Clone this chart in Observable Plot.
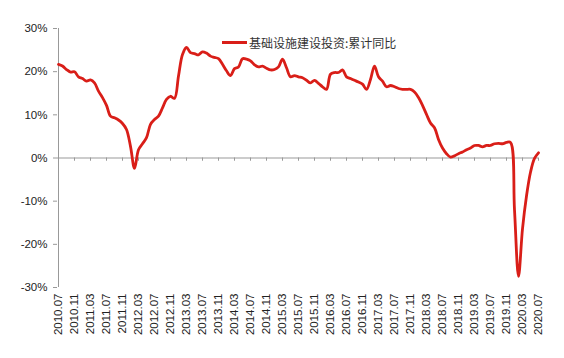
<!DOCTYPE html>
<html><head><meta charset="utf-8">
<script src="https://cdn.jsdelivr.net/npm/d3@7"></script>
<script src="https://cdn.jsdelivr.net/npm/@observablehq/plot@0.6"></script>
<style>
body{margin:0;background:#fff;}
#wrap{position:relative;width:564px;height:358px;}
#legend{position:absolute;left:222px;top:34px;display:flex;align-items:center;font-family:"Noto Sans CJK SC";font-size:12px;color:#333;white-space:nowrap;}
#legend .sw{display:inline-block;width:25px;height:3px;background:#d91e18;margin-right:2px;}
</style></head>
<body><div id="wrap"><div id="legend"><span class="sw"></span><span id="lname"></span></div></div>
<script>
const seriesName = "基础设施建设投资:累计同比";
const startYear = 2010, startMonth = 7;
const values = [
  21.7, 21.3, 20.5, 19.9, 20.0, 18.8, 18.4, 17.8, 18.1, 17.4, 15.5, 14.0,
  12.2, 9.7, 9.3, 8.8, 8.0, 6.6, 2.7, -2.4, 1.9, 3.3, 4.7, 7.8,
  8.9, 9.7, 11.6, 13.6, 14.3, 13.8, 19.0, 24.0, 25.6, 24.4, 24.2, 23.9,
  24.6, 24.3, 23.6, 23.3, 23.0, 21.7, 20.2, 19.1, 20.7, 21.1, 23.0, 22.9,
  22.5, 21.6, 21.1, 21.3, 20.8, 20.4, 20.5, 21.1, 22.9, 20.9, 18.8, 19.1,
  18.8, 18.6, 18.0, 17.4, 18.0, 17.3, 16.5, 15.9, 19.4, 19.8, 19.8, 20.4,
  18.8, 18.4, 18.0, 17.6, 17.1, 15.9, 18.2, 21.3, 18.8, 17.8, 16.5, 16.8,
  16.5, 16.1, 15.9, 15.9, 15.9, 15.3, 14.0, 12.2, 10.1, 8.1, 7.0, 4.3,
  2.3, 1.0, 0.2, 0.5, 1.0, 1.4, 1.9, 2.3, 2.9, 2.9, 2.6, 2.9,
  2.9, 3.3, 3.4, 3.3, 3.6, 3.6, -12.0, -27.4, -16.4, -8.8, -3.3, -0.1,
  1.2
];
const yTicks = [-30, -20, -10, 0, 10, 20, 30];
const xTickLabels = ["2010.07","2010.11","2011.03","2011.07","2011.11","2012.03","2012.07","2012.11",
  "2013.03","2013.07","2013.11","2014.03","2014.07","2014.11","2015.03","2015.07","2015.11",
  "2016.03","2016.07","2016.11","2017.03","2017.07","2017.11","2018.03","2018.07","2018.11",
  "2019.03","2019.07","2019.11","2020.03","2020.07"];

const months = values.map((_, i) => {
  const t = startMonth - 1 + i;
  return `${startYear + Math.floor(t / 12)}.${String(t % 12 + 1).padStart(2, "0")}`;
});
const data = months.map((m, i) => ({month: m, value: values[i]}));
document.getElementById("lname").textContent = seriesName;

const chart = Plot.plot({
  width: 564, height: 358,
  marginLeft: 57, marginRight: 26, marginTop: 28, marginBottom: 71,
  style: {fontFamily: "'Liberation Sans', Arial, sans-serif", fontSize: "11.5px", background: "transparent"},
  x: {type: "point", domain: months, padding: 0, label: null},
  y: {domain: [-30, 30], label: null},
  marks: [
    Plot.ruleX([months[0]], {y1: -30, y2: 30, stroke: "#999"}),
    Plot.ruleY([0], {stroke: "#999"}),
    Plot.ruleX(xTickLabels, {x: d => d, y1: 0, y2: -0.75, stroke: "#999"}),
    Plot.axisY(yTicks, {tickSize: 4, tickPadding: 6, stroke: "#999", fill: "#222", label: null, tickFormat: d => d + "%"}),
    Plot.axisX(xTickLabels, {tickSize: 0, tickPadding: 6, tickRotate: -90, fill: "#222", label: null}),
    Plot.line(data, {x: "month", y: "value", stroke: "#d91e18", strokeWidth: 2.8, curve: "catmull-rom"})
  ]
});
document.getElementById("wrap").prepend(chart);
chart.style.position = "absolute"; chart.style.left = "0"; chart.style.top = "0";
</script>
</body></html>
